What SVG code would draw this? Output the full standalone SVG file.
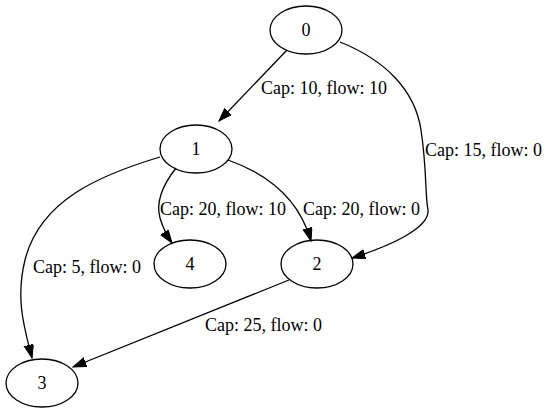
<svg xmlns="http://www.w3.org/2000/svg" width="548" height="413" viewBox="0 0 548 413">
  <style>
    .node ellipse { fill: none; stroke: #000; stroke-width: 1.3; }
    .node text { font-family: "Liberation Serif", "Times New Roman", serif; font-size: 18px; text-anchor: middle; fill: #000; }
    .edge path { fill: none; stroke: #000; stroke-width: 1.3; marker-end: url(#arrow); }
    .elabel { font-family: "Liberation Serif", "Times New Roman", serif; font-size: 18px; fill: #000; }
  </style>
  <defs>
    <marker id="arrow" markerUnits="userSpaceOnUse" markerWidth="16" markerHeight="12" refX="13.3" refY="4.7" orient="auto" viewBox="0 0 16 12">
      <path d="M0,0 L13.3,4.7 L0,9.3 Z" fill="#000" stroke="#000" stroke-width="1"/>
    </marker>
  </defs>
  <rect width="548" height="413" fill="#fff"/>

  <g id="edges">
    <g class="edge" id="e0-1"><path d="M287,50 L219,121"/></g>
    <g class="edge" id="e0-2"><path d="M340,42 C385,60 415,90 421,130 C427,170 425,195 428,210 C430,228 390,246 352,258"/></g>
    <g class="edge" id="e1-2"><path d="M228,160 C262,172 298,195 311,241"/></g>
    <g class="edge" id="e1-4"><path d="M176,168 C165,182 155,200 160,218 C163,228 167,236 172,243"/></g>
    <g class="edge" id="e1-3"><path d="M160,157 C100,175 40,200 25,260 C15,300 25,330 32,358"/></g>
    <g class="edge" id="e2-3"><path d="M289,280 L73,367"/></g>
    <text class="elabel" x="261" y="94">Cap: 10, flow: 10</text>
    <text class="elabel" x="425" y="156">Cap: 15, flow: 0</text>
    <text class="elabel" x="160" y="215">Cap: 20, flow: 10</text>
    <text class="elabel" x="303" y="215">Cap: 20, flow: 0</text>
    <text class="elabel" x="33" y="273">Cap: 5, flow: 0</text>
    <text class="elabel" x="205" y="331">Cap: 25, flow: 0</text>
  </g>

  <g class="node" id="n0"><ellipse cx="306" cy="30" rx="36" ry="24"/><text x="306" y="36">0</text></g>
  <g class="node" id="n1"><ellipse cx="196" cy="149" rx="36" ry="24"/><text x="196" y="155">1</text></g>
  <g class="node" id="n4"><ellipse cx="190" cy="264" rx="36" ry="24"/><text x="190" y="270">4</text></g>
  <g class="node" id="n2"><ellipse cx="317" cy="264" rx="36" ry="24"/><text x="317" y="270">2</text></g>
  <g class="node" id="n3"><ellipse cx="42" cy="383" rx="36" ry="24"/><text x="42" y="389">3</text></g>
</svg>
